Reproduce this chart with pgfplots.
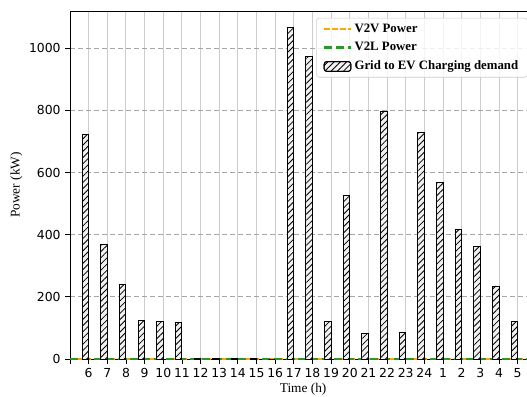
\documentclass[border=0pt]{standalone}
\usepackage{fontspec}
\setmainfont{Liberation Serif}
\newfontfamily\dejavu{DejaVu Sans}
\usepackage{pgfplots}
\pgfplotsset{compat=1.18}
\usetikzlibrary{patterns.meta}
\definecolor{v2v}{RGB}{255,165,0}
\definecolor{v2l}{RGB}{44,150,44}
\definecolor{barfill}{RGB}{240,240,240}
\pgfplotsset{
  lineleg/.style={legend image code/.code={\draw[##1] (0pt,0pt) -- (20pt,0pt);}},
  barleg/.style={legend image code/.code={\draw[##1] (0pt,-3.7pt) rectangle (20pt,3.7pt);}},
}
\begin{document}
\begin{tikzpicture}
\useasboundingbox (-52.5pt,-27.75pt) rectangle (342.75pt,269.25pt);
\clip (-52.5pt,-27.75pt) rectangle (342.75pt,269.25pt);
\begin{axis}[
  at={(0pt,0pt)}, anchor=south west,
  scale only axis, width=349.7pt, height=261pt,
  xmin=0, xmax=25, ymin=0, ymax=1120,
  xtick={0,...,25},
  xticklabels={,6,7,8,9,10,11,12,13,14,15,16,17,18,19,20,21,22,23,24,1,2,3,4,5,},
  ytick={0,200,400,600,800,1000},
  tick align=outside, tick pos=left,
  major tick length=3.5pt,
  tick style={line width=0.6pt, black},
  xmajorgrids, ymajorgrids,
  x grid style={color=gray!40, line width=0.7pt},
  y grid style={color=gray!70, dash pattern=on 4pt off 2pt, line width=0.6pt},
  axis line style={line width=0.7pt},
  /pgf/number format/assume math mode=true,
  /pgf/number format/1000 sep={},
  ticklabel style={font=\dejavu\fontsize{9.3}{11}\selectfont},
  xlabel={Time (h)}, ylabel={Power (kW)},
  label style={font=\fontsize{10}{12}\selectfont},
  xlabel style={yshift=3pt},
  ylabel style={yshift=-2pt},
  legend cell align=left,
  legend style={at={(0.528,0.98)}, anchor=north west,
    font=\bfseries\fontsize{9.6}{11}\selectfont,
    draw=gray!40, fill=white, fill opacity=0.8, text opacity=1,
    rounded corners=2pt, inner xsep=5pt, inner ysep=2pt,
    row sep=2.2pt},
]
\addplot[v2v, line width=1.2pt, dash pattern=on 4pt off 2pt, lineleg]
  coordinates {(0,0) (1,0) (2,0) (3,0) (4,0) (5,0) (6,0) (7,0) (8,0) (9,0) (10,0) (11,0) (12,0) (13,0) (14,0) (15,0) (16,0) (17,0) (18,0) (19,0) (20,0) (21,0) (22,0) (23,0) (24,0) (25,0)};
\addlegendentry{V2V Power}
\addplot[v2l, line width=1.6pt, dash pattern=on 6pt off 3pt, lineleg]
  coordinates {(0,0) (1,0) (2,0) (3,0) (4,0) (5,0) (6,0) (7,0) (8,0) (9,0) (10,0) (11,0) (12,0) (13,0) (14,0) (15,0) (16,0) (17,0) (18,0) (19,0) (20,0) (21,0) (22,0) (23,0) (24,0) (25,0)};
\addlegendentry{V2L Power}
\addplot[ybar, bar width=0.35, bar shift=-0.175, draw=black, line width=0.7pt,
  fill=barfill, postaction={pattern={Lines[angle=45,distance=3.3pt,line width=0.6pt]}}, barleg]
  coordinates {(1,724) (2,368) (3,241) (4,125) (5,121) (6,116) (7,3) (8,1) (9,1) (10,1) (11,0) (12,1067) (13,973) (14,120) (15,525) (16,82) (17,798) (18,86) (19,730) (20,569) (21,418) (22,361) (23,235) (24,121)};
\addlegendentry{Grid to EV Charging demand}
\end{axis}
\end{tikzpicture}
\end{document}
